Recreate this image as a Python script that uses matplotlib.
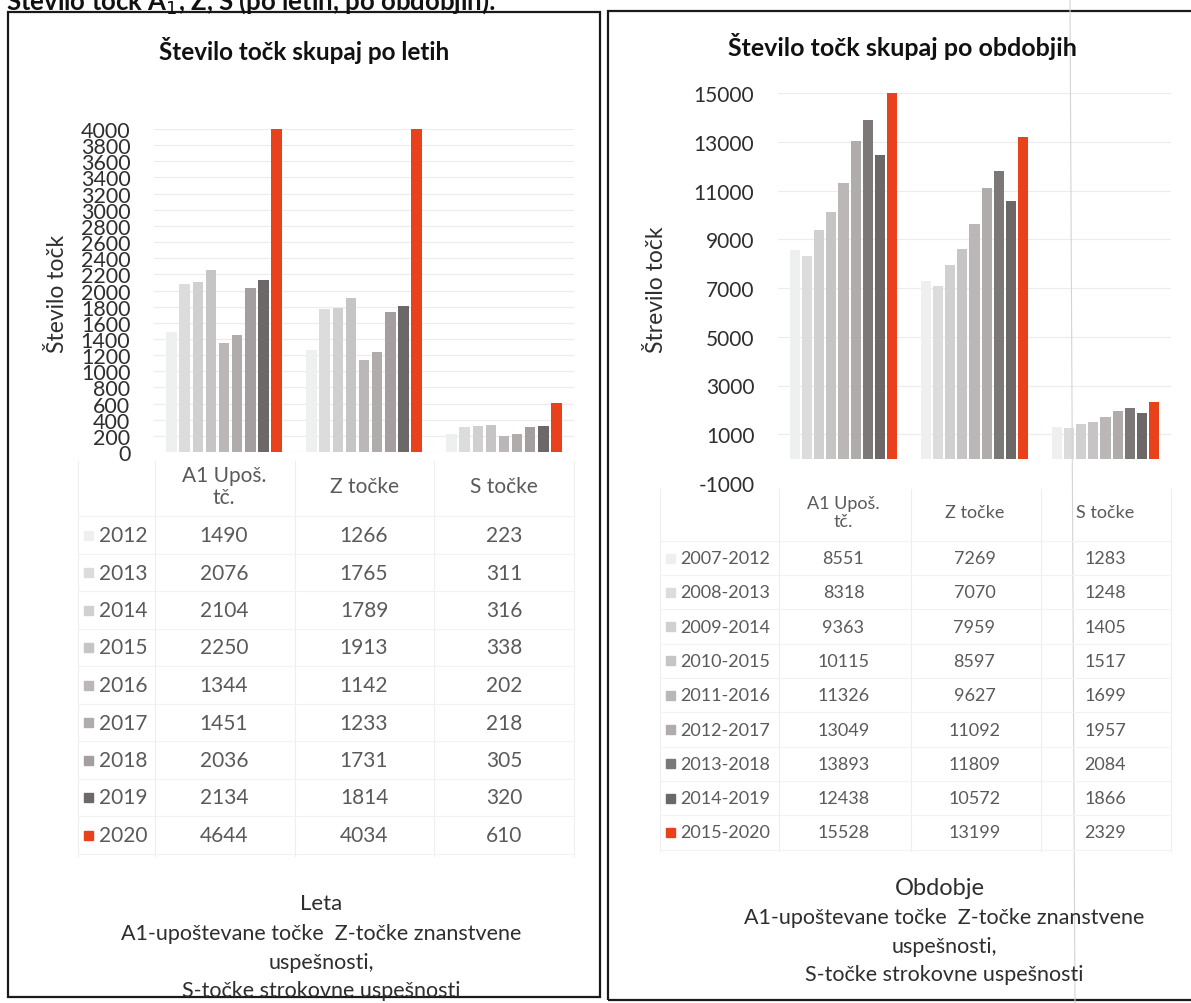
import numpy as np
import matplotlib
matplotlib.use('Agg')
import matplotlib.pyplot as plt
from matplotlib.patches import Rectangle
from matplotlib.lines import Line2D
from matplotlib.transforms import blended_transform_factory

plt.rcParams['font.family'] = ['Lato', 'DejaVu Sans']
plt.rcParams['axes.unicode_minus'] = False

# podatki - po letih
categories = ['A1 Upoš.\ntč.', 'Z točke', 'S točke']
years = ['2012', '2013', '2014', '2015', '2016', '2017', '2018', '2019', '2020']
a1_years = [1490, 2076, 2104, 2250, 1344, 1451, 2036, 2134, 4644]
z_years = [1266, 1765, 1789, 1913, 1142, 1233, 1731, 1814, 4034]
s_years = [223, 311, 316, 338, 202, 218, 305, 320, 610]

# podatki - po obdobjih
periods = ['2007-2012', '2008-2013', '2009-2014', '2010-2015', '2011-2016',
           '2012-2017', '2013-2018', '2014-2019', '2015-2020']
a1_periods = [8551, 8318, 9363, 10115, 11326, 13049, 13893, 12438, 15528]
z_periods = [7269, 7070, 7959, 8597, 9627, 11092, 11809, 10572, 13199]
s_periods = [1283, 1248, 1405, 1517, 1699, 1957, 2084, 1866, 2329]

colors_left = ['#eef0f0', '#dcdcdc', '#d0d0d0', '#c6c4c4', '#bbb7b7',
               '#b0acac', '#a49ea0', '#6c6868', '#e8411c']
colors_right = ['#eef0f0', '#dcdcdc', '#d0d0d0', '#c6c4c4', '#bbb7b7',
                '#b0acac', '#7d7878', '#6c6868', '#e8411c']

W, H = 1191, 1004
fig = plt.figure(figsize=(W / 100, H / 100), dpi=100)
fig.patch.set_facecolor('white')


def fx(px):
    return px / W


def fy(py):
    return 1 - py / H


txt_gray = '#5a5a5a'
dark = '#2e2e2e'

# okvirja
fig.add_artist(Rectangle((fx(8), fy(998)), fx(592), 985 / H, transform=fig.transFigure,
                         fill=False, edgecolor='#1a1a1a', linewidth=1.6))
fig.add_artist(Rectangle((fx(608), fy(1001)), fx(600), 989 / H, transform=fig.transFigure,
                         fill=False, edgecolor='#1a1a1a', linewidth=1.6))
fig.add_artist(Line2D([fx(1070), fx(1075)], [1, 0], transform=fig.transFigure,
                      color='#d4d4d4', linewidth=0.8))

fig.text(fx(6), fy(10), 'Število točk A$_1$, Z, S (po letih, po obdobjih):',
         fontsize=18.5, fontweight='bold', va='baseline', ha='left', color='#111111')


def make_panel(left_px, right_px, top_px, bottom_px, ylim, yticks, series, colors):
    ax = fig.add_axes([fx(left_px), fy(bottom_px), (right_px - left_px) / W,
                       (bottom_px - top_px) / H])
    x = np.arange(3)
    n = len(colors)
    step = 0.093
    for j in range(n):
        vals = [series[0][j], series[1][j], series[2][j]]
        ax.bar(x + (j - (n - 1) / 2) * step, vals, width=0.078,
               color=colors[j], zorder=3)
    ax.set_xlim(-0.5, 2.5)
    ax.set_ylim(*ylim)
    ax.set_yticks(yticks)
    ax.set_xticks([])
    for sp in ax.spines.values():
        sp.set_visible(False)
    ax.tick_params(axis='y', length=0, pad=17, labelsize=15, labelcolor=dark)
    ax.grid(axis='y', color='#ececec', linewidth=0.8, zorder=0)
    ax.set_facecolor('none')
    return ax


# levi graf
axL = make_panel(154, 574, 130, 453, (0, 4000), np.arange(0, 4001, 200),
                 [a1_years, z_years, s_years], colors_left)
axL.tick_params(axis='y', labelsize=15.5)
fig.text(fx(304), fy(50), 'Število točk skupaj po letih', fontsize=17.5,
         fontweight='bold', ha='center', va='center', color='#111111')
fig.text(fx(57), fy(294), 'Število točk', fontsize=16.5, rotation=90,
         ha='center', va='center', color=dark)

# desni graf
axR = make_panel(778, 1171, 94, 484, (-1000, 15000), np.arange(-1000, 15001, 2000),
                 [a1_periods, z_periods, s_periods], colors_right)
fig.text(fx(902), fy(47), 'Število točk skupaj po obdobjih', fontsize=18,
         fontweight='bold', ha='center', va='center', color='#111111')
fig.text(fx(657), fy(290), 'Štrevilo točk', fontsize=16.5, rotation=90,
         ha='center', va='center', color=dark)


def data_table(ax, labels, cols, row_y0, row_dy, head_y, key_x, lab_x, vlines,
               top_line, bottom_line, fs, colors):
    tr = blended_transform_factory(ax.transData, fig.transFigure)
    # mreža tabele
    for vx in vlines:
        fig.add_artist(Line2D([fx(vx), fx(vx)], [fy(top_line), fy(bottom_line)],
                              transform=fig.transFigure, color='#eeeeee', linewidth=0.8))
    for i in range(len(labels) + 1):
        yy = row_y0 - row_dy / 2 + i * row_dy
        fig.add_artist(Line2D([fx(vlines[0]), fx(vlines[-1])], [fy(yy), fy(yy)],
                              transform=fig.transFigure, color='#f2f2f2', linewidth=0.8))
    for k, c in enumerate(categories):
        fig.text(k, fy(head_y), c, transform=tr, fontsize=fs, ha='center',
                 va='center', color=txt_gray, linespacing=1.15)
    for i, lab in enumerate(labels):
        yy = row_y0 + i * row_dy
        fig.add_artist(Rectangle((fx(key_x - 4.5), fy(yy + 4.5)), 9 / W, 9 / H,
                                 transform=fig.transFigure, color=colors[i]))
        fig.text(fx(lab_x), fy(yy), lab, fontsize=fs, ha='left', va='center',
                 color=txt_gray)
        for k in range(3):
            fig.text(k, fy(yy), str(cols[k][i]), transform=tr, fontsize=fs,
                     ha='center', va='center', color=txt_gray)


data_table(axL, years, [a1_years, z_years, s_years], 536, 37.5, 487, 88, 99,
           [78, 155, 295, 434, 574], 462, 857, 15, colors_left)
data_table(axR, periods, [a1_periods, z_periods, s_periods], 559, 34.3, 513, 670, 680,
           [660, 779, 911, 1041, 1171], 490, 852, 13, colors_right)

# spodnji napisi
fig.text(fx(321), fy(904), 'Leta', fontsize=16, ha='center', va='center', color=dark)
for txt, yy in zip(['A1-upoštevane točke  Z-točke znanstvene', 'uspešnosti,',
                    'S-točke strokovne uspešnosti'], [934, 963, 991]):
    fig.text(fx(321), fy(yy), txt, fontsize=15.5, ha='center', va='center', color=dark)

fig.text(fx(940), fy(889), 'Obdobje', fontsize=17, ha='center', va='center', color=dark)
for txt, yy in zip(['A1-upoštevane točke  Z-točke znanstvene', 'uspešnosti,',
                    'S-točke strokovne uspešnosti'], [918, 947, 975]):
    fig.text(fx(944), fy(yy), txt, fontsize=15.5, ha='center', va='center', color=dark)

plt.savefig('out.png', dpi=100)
plt.close()
